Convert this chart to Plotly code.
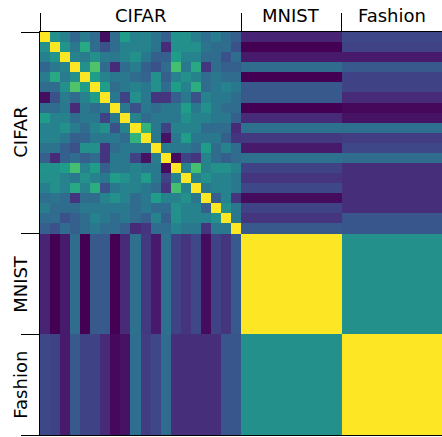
import plotly.graph_objects as go

# ---- data ----
groups = ["CIFAR", "MNIST", "Fashion"]
group_sizes = [20, 10, 10]   # width of each block in index units

cifar_sim = [
    [1.00, .50, .44, .33, .42, .35, .04, .35, .55, .45, .45, .38, .30, .51, .50, .43, .36, .42, .35, .30],
    [.50, 1.00, .52, .40, .60, .35, .25, .35, .45, .45, .45, .38, .12, .50, .50, .50, .38, .35, .35, .25],
    [.44, .52, 1.00, .45, .42, .50, .42, .40, .45, .50, .40, .30, .30, .55, .45, .45, .35, .35, .25, .35],
    [.33, .40, .45, 1.00, .50, .72, .35, .12, .35, .42, .30, .25, .35, .70, .40, .60, .15, .35, .30, .30],
    [.42, .60, .42, .50, 1.00, .55, .45, .40, .40, .35, .32, .50, .30, .45, .50, .45, .35, .40, .35, .35],
    [.35, .35, .50, .72, .55, 1.00, .55, .35, .40, .45, .40, .50, .35, .55, .45, .62, .35, .40, .45, .40],
    [.04, .25, .42, .35, .45, .55, 1.00, .40, .20, .50, .40, .15, .15, .30, .40, .25, .45, .40, .40, .35],
    [.35, .35, .40, .12, .40, .35, .40, 1.00, .40, .25, .40, .35, .40, .40, .55, .40, .50, .40, .35, .35],
    [.55, .45, .45, .35, .40, .40, .20, .40, 1.00, .45, .35, .40, .40, .40, .50, .45, .45, .40, .40, .30],
    [.45, .45, .50, .42, .35, .45, .50, .25, .45, 1.00, .65, .40, .20, .45, .45, .45, .35, .35, .35, .12],
    [.45, .45, .40, .30, .32, .40, .40, .40, .35, .65, 1.00, .40, .05, .40, .55, .40, .40, .40, .30, .15],
    [.38, .38, .30, .25, .50, .50, .15, .35, .40, .40, .40, 1.00, .42, .40, .40, .35, .55, .35, .45, .35],
    [.30, .12, .30, .35, .30, .35, .15, .40, .40, .20, .05, .42, 1.00, .03, .20, .15, .45, .35, .30, .35],
    [.51, .50, .55, .70, .45, .55, .30, .40, .40, .45, .40, .40, .03, 1.00, .45, .70, .45, .50, .50, .45],
    [.50, .50, .45, .40, .50, .45, .40, .55, .50, .45, .55, .40, .20, .45, 1.00, .45, .50, .45, .45, .40],
    [.43, .50, .45, .60, .45, .62, .25, .40, .45, .45, .40, .35, .15, .70, .45, 1.00, .40, .45, .45, .40],
    [.36, .38, .35, .15, .35, .35, .45, .50, .45, .35, .40, .55, .45, .45, .50, .40, 1.00, .30, .45, .15],
    [.42, .35, .35, .35, .40, .40, .40, .40, .40, .35, .40, .35, .35, .50, .45, .45, .30, 1.00, .50, .40],
    [.35, .35, .25, .30, .35, .45, .40, .35, .40, .35, .30, .45, .30, .50, .45, .45, .45, .50, 1.00, .40],
    [.30, .25, .35, .30, .35, .40, .35, .35, .30, .12, .15, .35, .35, .45, .40, .40, .15, .40, .40, 1.00],
]
cifar_vs_mnist = [.10, .00, .07, .35, .00, .28, .28, .00, .12, .37, .17, .07, .37, .20, .15, .22, .03, .20, .15, .28]
cifar_vs_fashion = [.22, .20, .07, .28, .20, .20, .12, .02, .05, .36, .18, .22, .35, .13, .13, .13, .13, .13, .27, .27]
mnist_vs_mnist = 1.0
fashion_vs_fashion = 1.0
mnist_vs_fashion = 0.5

# ---- build matrix (20 CIFAR cells + one MNIST block + one Fashion block) ----
n = len(cifar_sim)
z = []
for i in range(n):
    z.append(list(cifar_sim[i]) + [cifar_vs_mnist[i], cifar_vs_fashion[i]])
z.append(list(cifar_vs_mnist) + [mnist_vs_mnist, mnist_vs_fashion])
z.append(list(cifar_vs_fashion) + [mnist_vs_fashion, fashion_vs_fashion])

edges = list(range(n + 1)) + [n + group_sizes[1], n + group_sizes[1] + group_sizes[2]]
boundaries = [0, n, n + group_sizes[1], n + group_sizes[1] + group_sizes[2]]
centers = [(boundaries[k] + boundaries[k + 1]) / 2 for k in range(3)]

fig = go.Figure(go.Heatmap(
    z=z, x=edges, y=edges,
    colorscale="Viridis", zmin=0, zmax=1, showscale=False,
    hoverinfo="skip",
))

axis_common = dict(
    showgrid=False, zeroline=False,
    showline=True, linecolor="black", linewidth=1.3,
    ticks="outside", ticklen=18, tickwidth=1.3, tickcolor="black",
    tickvals=boundaries, showticklabels=False,
    range=[0, boundaries[-1]],
)
fig.update_xaxes(side="top", mirror=True, **axis_common)
axis_y = dict(axis_common)
axis_y["range"] = [boundaries[-1], 0]
fig.update_yaxes(**axis_y)

font = dict(family="DejaVu Sans", size=18, color="black")
for name, c in zip(groups, centers):
    fig.add_annotation(x=c, xref="x", y=1, yref="paper", text=name,
                       showarrow=False, font=font, yanchor="middle", yshift=17)
    fig.add_annotation(x=0, xref="paper", y=c, yref="y", text=name,
                       showarrow=False, font=font, textangle=-90,
                       xanchor="center", xshift=-19)

fig.update_layout(
    width=442, height=437,
    margin=dict(l=40, r=0, t=32, b=2, pad=0),
    paper_bgcolor="white", plot_bgcolor="white",
)

fig.write_html("out.html")
